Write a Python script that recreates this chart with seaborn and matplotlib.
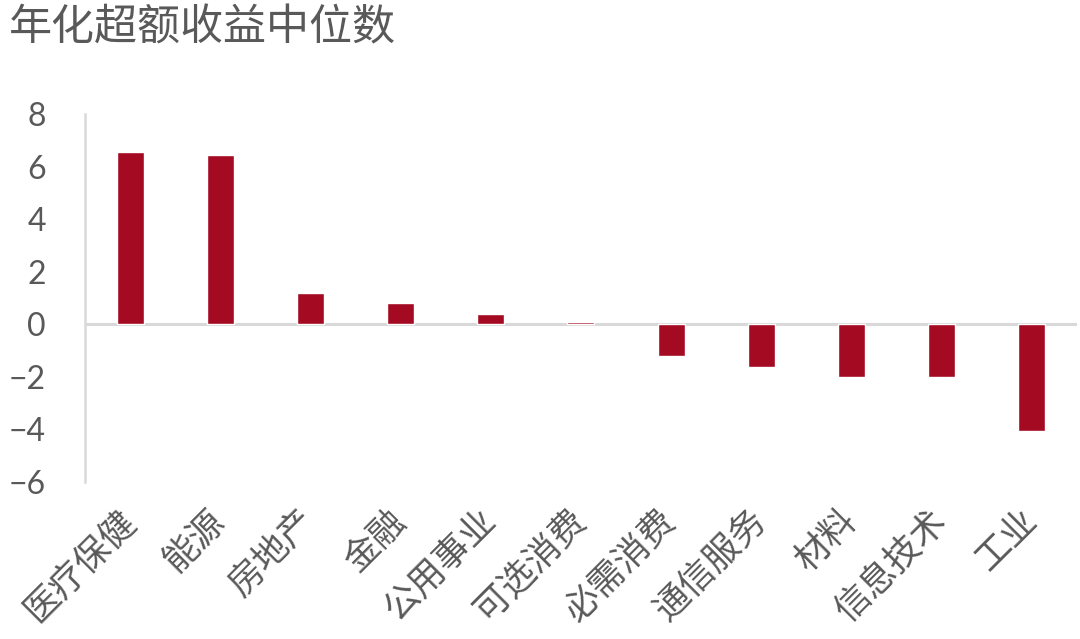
import matplotlib
matplotlib.use("Agg")
import matplotlib.pyplot as plt
import seaborn as sns
import pandas as pd

categories = ["医疗保健", "能源", "房地产", "金融", "公用事业", "可选消费",
              "必需消费", "通信服务", "材料", "信息技术", "工业"]
values = [6.55, 6.43, 1.19, 0.80, 0.38, 0.10, -1.22, -1.62, -2.02, -2.02, -4.05]
yticks = [-6, -4, -2, 0, 2, 4, 6, 8]
title = "年化超额收益中位数"

sns.set_theme(style="white")
plt.rcParams['font.family'] = ['Noto Sans CJK SC', 'DejaVu Sans']
plt.rcParams['axes.unicode_minus'] = True

df = pd.DataFrame({"cat": categories, "val": values})

fig = plt.figure(figsize=(10.8, 6.39), dpi=100)
ax = fig.add_axes([0.0787, 0.2457, 0.997 - 0.0787, 0.8216 - 0.2457])

sns.barplot(data=df, x="cat", y="val", color="#A50A23", saturation=1,
            width=0.3, ax=ax)

ax.set_xlim(-0.5, len(categories) - 0.5)
ax.set_ylim(-6, 8)
ax.set_yticks(yticks)
ax.set_yticklabels([str(v).replace("-", "\u2212") for v in yticks],
                   family=['Lato', 'DejaVu Sans'], fontsize=23, color="#595959")
ax.set_xlabel("")
ax.set_ylabel("")

for s in ["top", "right", "bottom"]:
    ax.spines[s].set_visible(False)
ax.spines["left"].set_color("#D9D9D9")
ax.spines["left"].set_linewidth(1.8)
ax.axhline(0, color="#D9D9D9", linewidth=2.2, zorder=0.5)

ax.tick_params(axis="y", length=0, pad=28)
ax.tick_params(axis="x", length=0, pad=24)
for lab in ax.get_xticklabels():
    lab.set_rotation(45)
    lab.set_ha("right")
    lab.set_va("center")
    lab.set_rotation_mode("anchor")
    lab.set_fontsize(25.5)
    lab.set_color("#595959")
    lab.set_family(['Noto Sans CJK SC', 'DejaVu Sans'])

fig.text(0.008, 0.955, title, fontsize=31, color="#595959",
         ha="left", va="center", family=['Noto Sans CJK SC', 'DejaVu Sans'])

fig.savefig("out.png", dpi=100)
